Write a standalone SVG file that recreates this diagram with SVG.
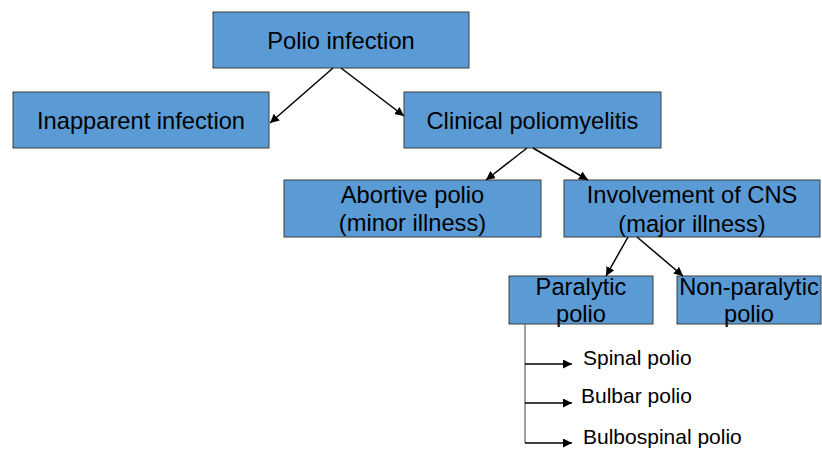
<svg xmlns="http://www.w3.org/2000/svg" width="822" height="449" viewBox="0 0 822 449">
<defs>
<marker id="ah" viewBox="0 0 10 10" refX="10" refY="5" markerWidth="9" markerHeight="9" markerUnits="userSpaceOnUse" orient="auto">
<path d="M0,0 L10,5 L0,10 z" fill="#000"/>
</marker>
<style>
.box{fill:#5B9BD5;stroke:#3F3F3F;stroke-width:1}
.t{font-family:"Liberation Sans",Arial,sans-serif;font-size:23.7px;fill:#000;text-anchor:middle}
.s{font-family:"Liberation Sans",Arial,sans-serif;font-size:21px;fill:#000}
.c{stroke:#000;stroke-width:1.5;fill:none;marker-end:url(#ah)}
</style>
</defs>
<rect width="822" height="449" fill="#fff"/>
<g id="n-polio"><rect class="box" x="213" y="12" width="256" height="56"/><text class="t" x="341" y="49">Polio infection</text></g>
<g id="n-inapparent"><rect class="box" x="13" y="92" width="256" height="56"/><text class="t" x="141" y="129">Inapparent infection</text></g>
<g id="n-clinical"><rect class="box" x="404" y="92" width="257" height="56"/><text class="t" x="532.5" y="129">Clinical poliomyelitis</text></g>
<g id="n-abortive"><rect class="box" x="284" y="180" width="257" height="57"/><text class="t" x="412.5" y="203">Abortive polio</text><text class="t" x="412.5" y="231">(minor illness)</text></g>
<g id="n-cns"><rect class="box" x="564" y="180" width="256" height="57"/><text class="t" x="692" y="203">Involvement of CNS</text><text class="t" x="692" y="232">(major illness)</text></g>
<g id="n-paralytic"><rect class="box" x="509" y="276" width="144" height="48"/><text class="t" x="581" y="295">Paralytic</text><text class="t" x="581" y="322">polio</text></g>
<g id="n-nonparalytic"><rect class="box" x="677" y="276" width="144" height="48"/><text class="t" x="749" y="295">Non-paralytic</text><text class="t" x="749" y="322">polio</text></g>
<g id="n-spinal"><text class="s" x="583" y="365">Spinal polio</text></g>
<g id="n-bulbar"><text class="s" x="581" y="403">Bulbar polio</text></g>
<g id="n-bulbospinal"><text class="s" x="583" y="444">Bulbospinal polio</text></g>
<g id="connectors">
<line class="c" x1="333" y1="68" x2="270" y2="123"/>
<line class="c" x1="341" y1="68" x2="404" y2="116"/>
<line class="c" x1="527" y1="148" x2="486" y2="180"/>
<line class="c" x1="533" y1="148" x2="588" y2="180"/>
<line class="c" x1="628" y1="237" x2="606" y2="276"/>
<line class="c" x1="637" y1="237" x2="683" y2="276"/>
<line x1="525" y1="324" x2="525" y2="443" stroke="#7F7F7F" stroke-width="1.5"/>
<line class="c" x1="525" y1="364" x2="572" y2="364"/>
<line class="c" x1="525" y1="403" x2="572" y2="403"/>
<line class="c" x1="525" y1="443" x2="572" y2="443"/>
</g>
</svg>
